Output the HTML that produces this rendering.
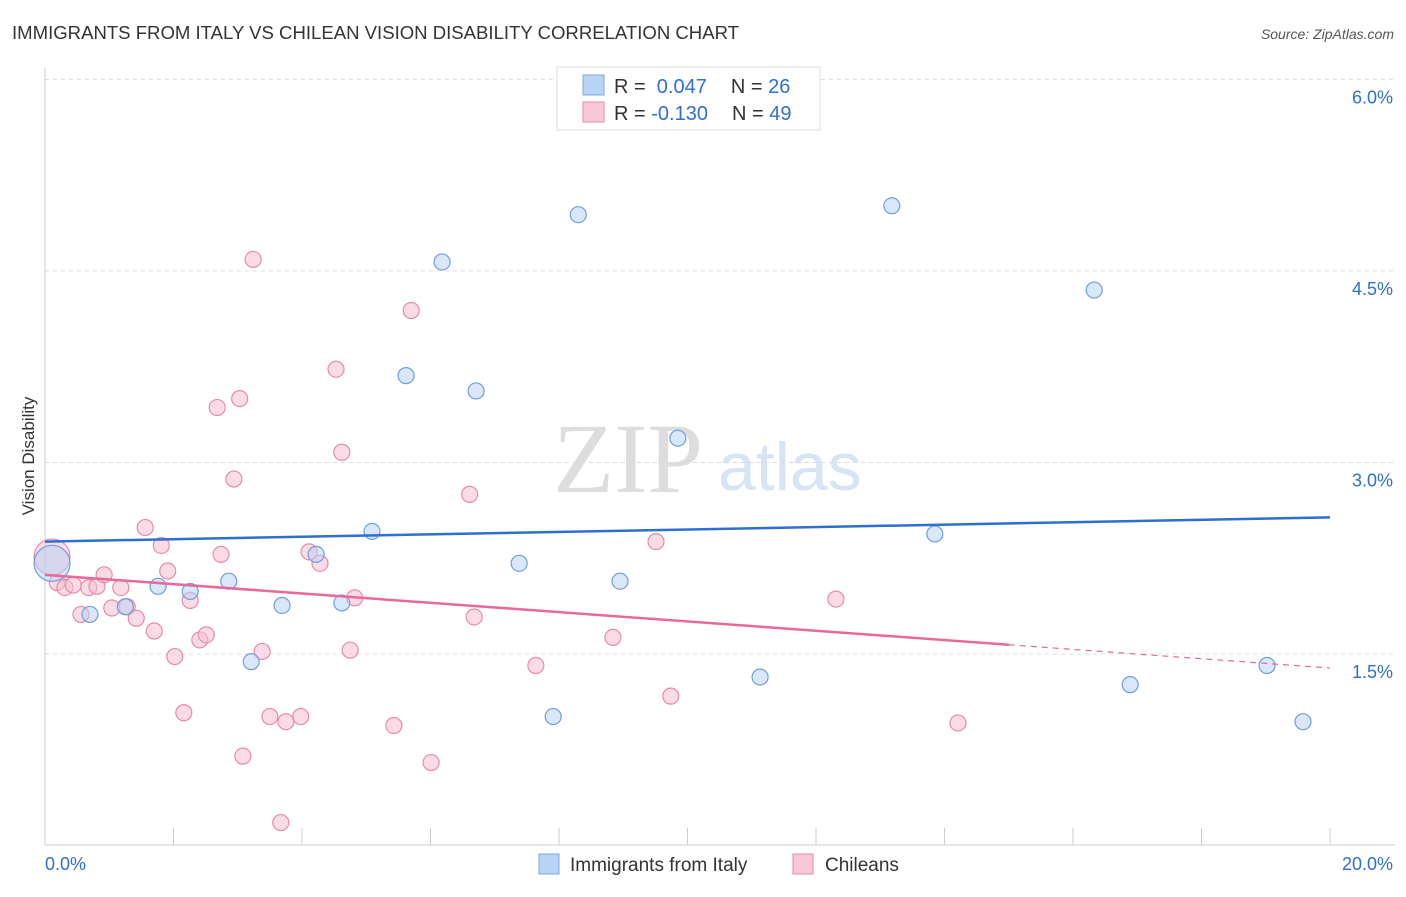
<!DOCTYPE html>
<html><head><meta charset="utf-8"><style>
body{margin:0;background:#fff;font-family:"Liberation Sans",sans-serif}
</style></head><body>
<svg id="c" width="1406" height="892" xmlns="http://www.w3.org/2000/svg">
<text x="12" y="39" font-size="18" fill="#333" textLength="727" lengthAdjust="spacingAndGlyphs">IMMIGRANTS FROM ITALY VS CHILEAN VISION DISABILITY CORRELATION CHART</text>
<text x="1394" y="39" font-size="14" fill="#555" font-style="italic" text-anchor="end">Source: ZipAtlas.com</text>
<text x="34" y="456" font-size="17" fill="#333" text-anchor="middle" transform="rotate(-90 34 456)">Vision Disability</text>
<text x="553" y="492" font-size="100" fill="#ddd" font-family="Liberation Serif,serif">ZIP</text>
<text x="718" y="490" font-size="68" fill="#d6e4f5">atlas</text>
<g id="grid"></g><g id="marks"></g>
<g>
<rect x="557" y="67" width="263" height="63" fill="#fff" stroke="#ddd"/>
<rect x="583" y="75" width="21" height="20" fill="#b8d4f5" stroke="#7aa8e0"/>
<rect x="583" y="102" width="21" height="20" fill="#f9c8d7" stroke="#e88aa8"/>
<text x="614" y="93" font-size="20" fill="#333">R = <tspan fill="#2f6fd0">&#160;0.047</tspan><tspan dx="24">N = </tspan><tspan fill="#2f6fd0">26</tspan></text>
<text x="614" y="120" font-size="20" fill="#333">R = <tspan fill="#2f6fd0">-0.130</tspan><tspan dx="24">N = </tspan><tspan fill="#2f6fd0">49</tspan></text>
</g>
<g>
<rect x="539" y="854" width="20" height="20" fill="#b8d4f5" stroke="#7aa8e0"/>
<text x="570" y="871" font-size="19" fill="#333">Immigrants from Italy</text>
<rect x="793" y="854" width="20" height="20" fill="#f9c8d7" stroke="#e88aa8"/>
<text x="825" y="871" font-size="19" fill="#333">Chileans</text>
</g>
</svg>
<script>
const yTicks=[1.5,3.0,4.5,6.0];
const xTickLabels=["0.0%","20.0%"];
const blueX=[0.11,0.70,1.25,1.76,2.26,2.86,3.21,3.69,4.22,4.62,5.09,5.62,6.18,6.71,7.38,7.91,8.30,8.95,9.85,11.13,13.18,13.85,16.33,16.89,19.02,19.58];
const blueY=[2.21,1.81,1.87,2.03,1.99,2.07,1.44,1.88,2.28,1.90,2.46,3.68,4.57,3.56,2.21,1.01,4.94,2.07,3.19,1.32,5.01,2.44,4.35,1.26,1.41,0.97];
const pinkX=[0.11,0.19,0.31,0.44,0.56,0.68,0.81,0.92,1.04,1.18,1.28,1.42,1.56,1.70,1.81,1.91,2.02,2.16,2.26,2.41,2.51,2.68,2.74,2.94,3.03,3.08,3.24,3.38,3.50,3.67,3.75,3.98,4.11,4.28,4.53,4.62,4.75,4.82,5.43,5.70,6.01,6.61,6.68,7.64,8.84,9.51,9.74,12.31,14.21];
const pinkY=[2.26,2.06,2.02,2.04,1.81,2.02,2.03,2.12,1.86,2.02,1.87,1.78,2.49,1.68,2.35,2.15,1.48,1.04,1.92,1.61,1.65,3.43,2.28,2.87,3.50,0.70,4.59,1.52,1.01,0.18,0.97,1.01,2.30,2.21,3.73,3.08,1.53,1.94,0.94,4.19,0.65,2.75,1.79,1.41,1.63,2.38,1.17,1.93,0.96];
const blueTrend=[2.38,2.57];
const pinkTrend=[2.12,1.39];
const NS="http://www.w3.org/2000/svg";
const X=v=>45+v*64.25, Y=v=>654-(v-1.5)*127.7;
const grid=document.getElementById('grid'), marks=document.getElementById('marks');
function mk(p,t,a){const e=document.createElementNS(NS,t);for(const k in a)e.setAttribute(k,a[k]);p.appendChild(e);return e;}
yTicks.forEach(t=>{
 const l=mk(grid,'line',{x1:45,x2:1395,y1:Y(t),y2:Y(t),stroke:'#ddd','stroke-dasharray':'4,4'});
 
 
 const tx=mk(grid,'text',{x:1393,y:Y(t)+24,'font-size':18,fill:'#2f6fd0','text-anchor':'end'});
 tx.textContent=t.toFixed(1)+'%';
 
 
});
mk(grid,'line',{x1:45,x2:45,y1:68,y2:845,stroke:'#ccc'});
mk(grid,'line',{x1:45,x2:1395,y1:845,y2:845,stroke:'#ccc'});
for(let i=0;i<=10;i++){const t=mk(grid,'line',{x1:X(i*2),x2:X(i*2),y1:828,y2:845,stroke:'#ccc'});
 
 }
[[45,'start'],[1393,'end']].forEach((p,i)=>{const t=mk(grid,'text',{x:p[0],y:870,'font-size':18,fill:'#2f6fd0','text-anchor':p[1]});t.textContent=xTickLabels[i];
 
 });
function pts(xs,ys,fill,stroke,name){xs.forEach((x,i)=>{const c=mk(marks,'circle',{cx:X(x),cy:Y(ys[i]),r:i==0?18:8,fill:fill,'fill-opacity':0.55,stroke:stroke,'stroke-width':1.2});
 
 });}
pts(pinkX,pinkY,'#f7bfd2','#e88aa8','chileans-point');
pts(blueX,blueY,'#b8d4f5','#6f9edb','italy-point');
const bl=mk(marks,'line',{x1:X(0),x2:X(20),y1:Y(blueTrend[0]),y2:Y(blueTrend[1]),stroke:'#2f6fd0','stroke-width':2.5});


const pv=x=>pinkTrend[0]+(pinkTrend[1]-pinkTrend[0])*x/20;
const pl=mk(marks,'line',{x1:X(0),x2:X(15),y1:Y(pv(0)),y2:Y(pv(15)),stroke:'#e8689a','stroke-width':2.5});


const pd=mk(marks,'line',{x1:X(15),x2:X(20),y1:Y(pv(15)),y2:Y(pv(20)),stroke:'#e8689a','stroke-width':1.2,'stroke-dasharray':'6,5'});


</script>
</body></html>
